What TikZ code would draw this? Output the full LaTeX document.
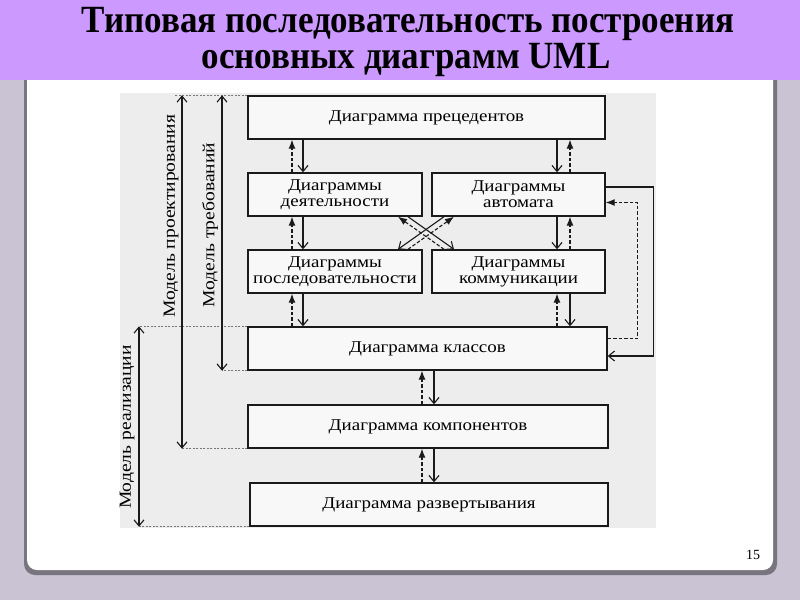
\documentclass[tikz,border=0pt]{standalone}
\usepackage{fontspec}
\setmainfont{Liberation Serif}
\newfontfamily\bookfont[FakeStretch=1.15]{Liberation Serif}
\usetikzlibrary{arrows.meta}
\definecolor{bgcol}{HTML}{C9C3D3}
\definecolor{titlecol}{HTML}{CC99FF}
\definecolor{scancol}{HTML}{EDEDED}
\definecolor{boxcol}{HTML}{F8F8F8}
\definecolor{inkcol}{HTML}{1A1A1A}
\begin{document}
\begin{tikzpicture}[x=1pt,y=-1pt,
  box/.style={draw=inkcol, line width=1.4pt, fill=boxcol, minimum width=#1,
    minimum height=43pt, inner sep=0pt, align=center,
    font=\bookfont\fontsize{16.5}{16}\selectfont},
  solidarr/.style={draw=inkcol, line width=1.1pt, -{Straight Barb[length=6pt,width=10pt]}},
  dasharr/.style={draw=inkcol, line width=1.1pt, dash pattern=on 3.5pt off 2pt,
    -{Latex[length=9pt,width=7pt]}},
  dblarr/.style={draw=inkcol, line width=1.1pt,
    {Straight Barb[length=6pt,width=10pt]}-{Straight Barb[length=6pt,width=10pt]}},
  guide/.style={draw=inkcol!60, line width=0.6pt, dash pattern=on 2pt off 1.5pt},
  lbl/.style={rotate=90, inner sep=0pt, font=\bookfont\fontsize{17}{17}\selectfont},
  titletext/.style={anchor=base, inner sep=0pt, font=\bfseries\fontsize{35}{35}\selectfont}]
\useasboundingbox (0,0) rectangle (800,600);
\fill[bgcol] (0,0) rectangle (800,600);
% card with shadow
\fill[black!40!bgcol, rounded corners=11pt] (24,60) rectangle (777,575);
\fill[white, rounded corners=10pt] (27,60) rectangle (773,570);
% title bar
\fill[titlecol] (0,0) rectangle (800,80);
\node[titletext] (t1) at (408,32) {\scalebox{1}[1.1]{Типовая последовательность построения}};
\node[titletext] (t2) at (406,68) {\scalebox{1}[1.1]{основных диаграмм UML}};
% scanned area
\fill[scancol] (120,93) rectangle (656,528);
% boxes
\node[box=357pt] (b1) at (426.5,117.5) {Диаграмма прецедентов};
\node[box=174pt] (b2) at (335,194.5) {Диаграммы\\деятельности};
\node[box=173pt] (b3) at (518.5,194.5) {Диаграммы\\автомата};
\node[box=174pt] (b4) at (335,271.5) {Диаграммы\\последовательности};
\node[box=173pt] (b5) at (518.5,271.5) {Диаграммы\\коммуникации};
\node[box=359pt] (b6) at (427.5,348.5) {Диаграмма классов};
\node[box=360pt] (b7) at (428,426.5) {Диаграмма компонентов};
\node[box=358pt] (b8) at (429,504.5) {Диаграмма развертывания};
% x positions
\coordinate (xa) at (292,0); \coordinate (xb) at (303,0);
\coordinate (xc) at (557,0); \coordinate (xd) at (570,0);
\coordinate (xe) at (422,0); \coordinate (xf) at (434,0);
\coordinate (c1) at (398,0); \coordinate (c2) at (408,0);
\coordinate (c3) at (444,0); \coordinate (c4) at (454,0);
\coordinate (xP) at (182,0); \coordinate (xT) at (222,0); \coordinate (xR) at (139,0);
% left column
\draw[dasharr] (b2.north -| xa) -- (b1.south -| xa);
\draw[solidarr] (b1.south -| xb) -- (b2.north -| xb);
\draw[dasharr] (b4.north -| xa) -- (b2.south -| xa);
\draw[solidarr] (b2.south -| xb) -- (b4.north -| xb);
\draw[dasharr] (b6.north -| xa) -- (b4.south -| xa);
\draw[solidarr] (b4.south -| xb) -- (b6.north -| xb);
% right column
\draw[solidarr] (b1.south -| xc) -- (b3.north -| xc);
\draw[dasharr] (b3.north -| xd) -- (b1.south -| xd);
\draw[solidarr] (b3.south -| xc) -- (b5.north -| xc);
\draw[dasharr] (b5.north -| xd) -- (b3.south -| xd);
\draw[dasharr] (b6.north -| xc) -- (b5.south -| xc);
\draw[solidarr] (b5.south -| xd) -- (b6.north -| xd);
% lower
\draw[dasharr] (b7.north -| xe) -- (b6.south -| xe);
\draw[solidarr] (b6.south -| xf) -- (b7.north -| xf);
\draw[dasharr] (b8.north -| xe) -- (b7.south -| xe);
\draw[solidarr] (b7.south -| xf) -- (b8.north -| xf);
% crossing
\draw[solidarr] (b2.south -| c2) -- (b5.north -| c4);
\draw[dasharr] (b5.north -| c3) -- (b2.south -| c1);
\draw[solidarr] (b3.south -| c3) -- (b4.north -| c1);
\draw[dasharr] (b4.north -| c2) -- (b3.south -| c4);
% right loops
\draw[solidarr] ([yshift=7.5pt]b3.east) -- ++(48,0) |- ([yshift=-7.5pt]b6.east);
\draw[dasharr] ([yshift=10pt]b6.east) -- ++(30,0) |- ([yshift=-8pt]b3.east);
% left brackets
\draw[guide] (b1.north west) -- ++(-72,0);
\draw[guide] (b6.south west) -- (b6.south -| xT);
\draw[guide] (b7.south west) -- (b7.south -| xP);
\draw[guide] (b6.north west) -- (b6.north -| xR);
\draw[guide] (b8.south west) -- (b8.south -| xR);
\draw[dblarr] (b1.north -| xP) -- (b7.south -| xP);
\draw[dblarr] (b1.north -| xT) -- (b6.south -| xT);
\draw[dblarr] (b6.north -| xR) -- (b8.south -| xR);
\node[lbl] (lP) at (171,216) {Модель проектирования};
\node[lbl] (lT) at (210,225) {Модель требований};
\node[lbl] (lR) at (127,427) {Модель реализации};
% page number
\node[font=\fontsize{14}{14}\selectfont] (pg) at (753,555) {15};
\end{tikzpicture}
\end{document}
